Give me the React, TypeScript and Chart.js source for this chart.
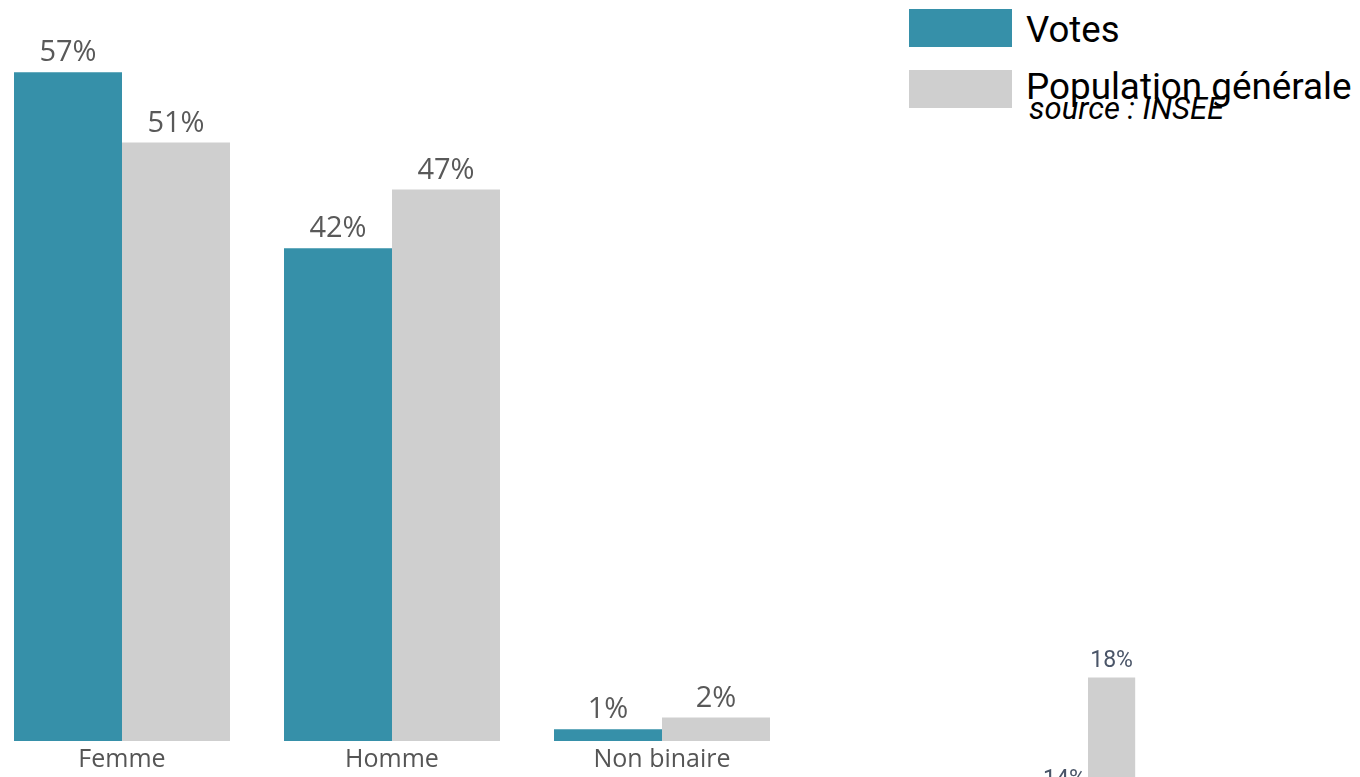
import React, { useEffect, useRef } from "react";
import { Chart, registerables } from "chart.js";

Chart.register(...registerables);

// ---- data ----
const categories = ["Femme", "Homme", "Non binaire"];
const votes = [57, 42, 1];
const population = [51, 47, 2];
const seriesNames = ["Votes", "Population générale"];
const sourceText = "source : INSEE";

// partially visible second chart (bottom right)
const secondCategories = [""];
const secondVotes = [14];
const secondPopulation = [18];

const TEAL = "#3690a9";
const GREY = "#cfcfcf";

function valueLabels(font: string, color: string, gap: number) {
  return {
    id: "valueLabels",
    afterDatasetsDraw(chart: any) {
      const ctx = chart.ctx;
      ctx.save();
      ctx.font = font;
      ctx.fillStyle = color;
      ctx.textAlign = "center";
      ctx.textBaseline = "alphabetic";
      chart.data.datasets.forEach((ds: any, i: number) => {
        const meta = chart.getDatasetMeta(i);
        meta.data.forEach((bar: any, j: number) => {
          ctx.fillText(`${ds.data[j]}%`, bar.x, bar.y - gap);
        });
      });
      ctx.restore();
    },
  };
}

export default function App() {
  const mainRef = useRef<HTMLCanvasElement | null>(null);
  const secondRef = useRef<HTMLCanvasElement | null>(null);

  useEffect(() => {
    const main = new Chart(mainRef.current as HTMLCanvasElement, {
      type: "bar",
      data: {
        labels: categories,
        datasets: [
          { label: seriesNames[0], data: votes, backgroundColor: TEAL, borderWidth: 0 },
          { label: seriesNames[1], data: population, backgroundColor: GREY, borderWidth: 0 },
        ],
      },
      options: {
        responsive: false,
        animation: false,
        layout: { padding: { top: 37, left: 0, right: 0, bottom: 0 } },
        datasets: { bar: { categoryPercentage: 0.8, barPercentage: 1.0 } },
        plugins: {
          legend: { display: false },
          tooltip: { enabled: false },
        },
        scales: {
          x: {
            grid: { display: false, drawTicks: false },
            border: { display: false },
            ticks: {
              color: "#555555",
              font: { family: '"Open Sans", sans-serif', size: 25 },
              padding: 4,
            },
            afterFit: (s: any) => {
              s.height = 36;
            },
          },
          y: { display: false, min: 0, max: 60 },
        },
      } as any,
      plugins: [valueLabels('29px "Open Sans", sans-serif', "#595959", 11)],
    });

    const second = new Chart(secondRef.current as HTMLCanvasElement, {
      type: "bar",
      data: {
        labels: secondCategories,
        datasets: [
          { label: seriesNames[0], data: secondVotes, backgroundColor: TEAL, borderWidth: 0 },
          { label: seriesNames[1], data: secondPopulation, backgroundColor: GREY, borderWidth: 0 },
        ],
      },
      options: {
        responsive: false,
        animation: false,
        layout: { padding: 0 },
        datasets: { bar: { categoryPercentage: 0.8, barPercentage: 1.0 } },
        plugins: {
          legend: { display: false },
          tooltip: { enabled: false },
        },
        scales: {
          x: { display: false },
          y: { display: false, min: 0, max: 20 },
        },
      } as any,
      plugins: [valueLabels('23px Roboto, sans-serif', "#4a5568", 11)],
    });

    return () => {
      main.destroy();
      second.destroy();
    };
  }, []);

  return (
    <div
      style={{
        position: "fixed",
        left: 0,
        top: 0,
        width: 1360,
        height: 777,
        overflow: "hidden",
        background: "#ffffff",
      }}
    >
      <canvas
        ref={mainRef}
        width={810}
        height={777}
        style={{ position: "absolute", left: -13, top: 0, width: 810, height: 777 }}
      />
      <canvas
        ref={secondRef}
        width={118}
        height={595}
        style={{ position: "absolute", left: 1029, top: 618, width: 118, height: 595 }}
      />
      {/* legend */}
      <div style={{ position: "absolute", left: 909, top: 9, width: 103, height: 38, background: TEAL }} />
      <div style={{ position: "absolute", left: 909, top: 70, width: 103, height: 38, background: GREY }} />
      <div
        style={{
          position: "absolute",
          left: 1026,
          top: 11,
          font: "36.6px Roboto, sans-serif",
          lineHeight: "38px",
          color: "#000",
          whiteSpace: "nowrap",
        }}
      >
        {seriesNames[0]}
      </div>
      <div
        style={{
          position: "absolute",
          left: 1026,
          top: 68,
          font: "36.8px Roboto, sans-serif",
          lineHeight: "38px",
          color: "#000",
          whiteSpace: "nowrap",
        }}
      >
        {seriesNames[1]}
      </div>
      <div
        style={{
          position: "absolute",
          left: 1029,
          top: 94,
          font: "italic 31px Roboto, sans-serif",
          lineHeight: "30px",
          color: "#000",
          whiteSpace: "nowrap",
        }}
      >
        {sourceText}
      </div>
    </div>
  );
}
